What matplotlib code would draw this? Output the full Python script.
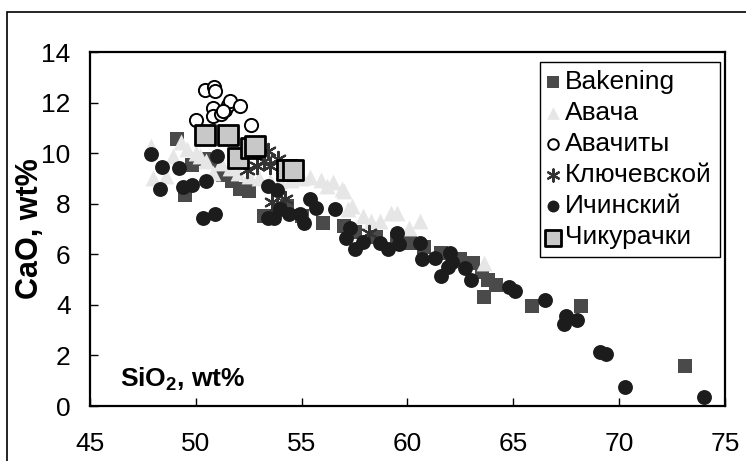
import matplotlib
matplotlib.use("Agg")
import matplotlib.pyplot as plt
from matplotlib.patches import Rectangle

plt.rcParams["font.family"] = ["Liberation Sans", "DejaVu Sans"]
plt.rcParams["mathtext.fontset"] = "custom"
plt.rcParams["mathtext.rm"] = "Liberation Sans"
plt.rcParams["mathtext.bf"] = "Liberation Sans:bold"

# SiO2 / CaO, wt%
bakening_x = [49.1, 49.5, 49.8, 50.4, 50.8, 51.3, 51.7, 52.1, 52.5, 53.2, 53.7, 54.3, 55.0,
              56.0, 57.0, 57.5, 58.5, 59.5, 60.1, 60.8, 61.6, 62.5, 63.1, 63.5, 63.8, 64.2,
              63.6, 65.9, 68.2, 73.1]
bakening_y = [10.55, 8.35, 9.55, 9.75, 9.7, 9.15, 8.9, 8.6, 8.5, 7.5, 7.5, 7.9, 7.5,
              7.25, 7.1, 6.9, 6.7, 6.6, 6.45, 6.3, 6.05, 5.8, 5.65, 5.3, 5.0, 4.8,
              4.3, 3.95, 3.97, 1.6]

avacha_x = [47.9, 48.0, 48.6, 48.9, 49.3, 49.6, 50.0, 50.2, 50.5, 50.8, 51.2, 51.6, 52.0,
            52.5, 53.0, 53.5, 54.0, 54.5, 55.0, 55.4, 55.9, 56.2, 56.5, 56.9, 57.0, 57.4,
            57.2, 57.9, 58.3, 58.7, 59.2, 59.5, 60.05, 60.6, 63.6]
avacha_y = [10.3, 9.0, 9.1, 9.9, 10.45, 10.15, 10.0, 9.9, 9.7, 9.2, 9.6, 9.4, 9.2,
            9.1, 9.0, 8.9, 8.9, 8.95, 9.0, 9.05, 8.95, 8.7, 8.85, 8.6, 8.5, 7.9,
            7.8, 7.5, 7.3, 7.3, 7.65, 7.65, 7.05, 7.3, 5.67]

avachity_x = [50.0, 50.45, 50.85, 50.9, 50.8, 50.8, 51.2, 51.4, 51.5, 51.6, 51.3, 52.1, 52.6]
avachity_y = [11.3, 12.5, 12.6, 12.45, 11.8, 11.45, 11.55, 11.7, 11.9, 12.05, 11.65, 11.85, 11.1]

klyuch_x = [52.4, 52.9, 53.2, 53.4, 53.5, 53.9, 53.6, 53.85, 54.2, 58.2]
klyuch_y = [9.35, 9.5, 9.7, 10.1, 9.5, 9.75, 8.05, 7.9, 8.2, 6.85]

ichinsky_x = [47.9, 48.4, 48.3, 49.2, 49.4, 49.8, 50.5, 51.0, 50.35, 50.9, 53.4, 53.85,
              54.0, 53.4, 53.7, 54.4, 54.9, 55.1, 55.4, 55.7, 56.6, 57.3, 57.1, 57.5,
              57.9, 58.7, 59.1, 59.5, 59.6, 60.6, 60.7, 61.3, 62.0, 62.1, 61.9, 61.6,
              62.7, 63.0, 64.8, 65.1, 66.5, 67.5, 68.0, 67.4, 69.1, 69.4, 70.3, 74.0]
ichinsky_y = [9.95, 9.45, 8.6, 9.4, 8.65, 8.75, 8.9, 9.9, 7.45, 7.6, 8.7, 8.55,
              7.8, 7.45, 7.45, 7.6, 7.6, 7.25, 8.2, 7.85, 7.8, 7.05, 6.65, 6.2,
              6.5, 6.45, 6.2, 6.85, 6.4, 6.45, 5.8, 5.85, 6.05, 5.7, 5.5, 5.15,
              5.45, 5.0, 4.7, 4.55, 4.2, 3.55, 3.4, 3.25, 2.15, 2.05, 0.75, 0.35]

chikur_x = [50.45, 51.5, 52.0, 52.6, 52.8, 54.3, 54.6]
chikur_y = [10.7, 10.7, 9.8, 10.2, 10.3, 9.35, 9.35]

fig = plt.figure(figsize=(7.46, 4.61), dpi=100)
ax = fig.add_axes([0.1206, 0.1193, 0.8512, 0.7679])

ax.scatter(bakening_x, bakening_y, marker="s", s=100, color="#4a4a4a", linewidths=0,
           label="Bakening", zorder=2)
ax.scatter(avacha_x, avacha_y, marker="^", s=130, color="#e6e6e6", linewidths=0,
           label="Авача", zorder=3)
ax.scatter(avachity_x, avachity_y, marker="o", s=90, facecolors="white",
           edgecolors="black", linewidths=1.4, label="Авачиты", zorder=4)
ax.scatter(klyuch_x, klyuch_y, marker=(6, 2, 0), s=120, color="#333333",
           linewidths=1.6, label="Ключевской", zorder=5)
ax.scatter(ichinsky_x, ichinsky_y, marker="o", s=115, color="#1c1c1c", linewidths=0,
           label="Ичинский", zorder=6)
ax.scatter(chikur_x, chikur_y, marker="s", s=200, facecolors="#c8c8c8",
           edgecolors="black", linewidths=2, label="Чикурачки", zorder=7)

ax.set_xlim(45, 75)
ax.set_ylim(0, 14)
ax.set_xticks(range(45, 76, 5))
ax.set_yticks(range(0, 15, 2))
ax.tick_params(direction="in", length=6, width=1, labelsize=19)
ax.tick_params(axis="x", pad=19)
ax.tick_params(axis="y", pad=14)
for s in ax.spines.values():
    s.set_linewidth(1.6)

ax.set_ylabel("CaO, wt%", fontsize=22, fontweight="bold")
ax.yaxis.set_label_coords(-0.071, 0.5)
ax.text(0.047, 0.055, r"SiO$_\mathbf{2}$, wt%", transform=ax.transAxes,
        fontsize=19, fontweight="bold", ha="left", va="baseline")

leg = ax.legend(loc="upper right", bbox_to_anchor=(0.992, 0.972), borderaxespad=0,
                fontsize=19, fancybox=False, edgecolor="black", framealpha=1,
                handlelength=0.4, handletextpad=0.25, labelspacing=0.27,
                borderpad=0.3, scatterpoints=1, markerscale=0.8)
leg.get_frame().set_linewidth(1.0)

fig.patches.append(Rectangle((7 / 746, -0.1), 1.2, 1.1 - 12 / 461, fill=False,
                             edgecolor="black", linewidth=1.2,
                             transform=fig.transFigure, figure=fig))

fig.savefig("out.png", dpi=100)
